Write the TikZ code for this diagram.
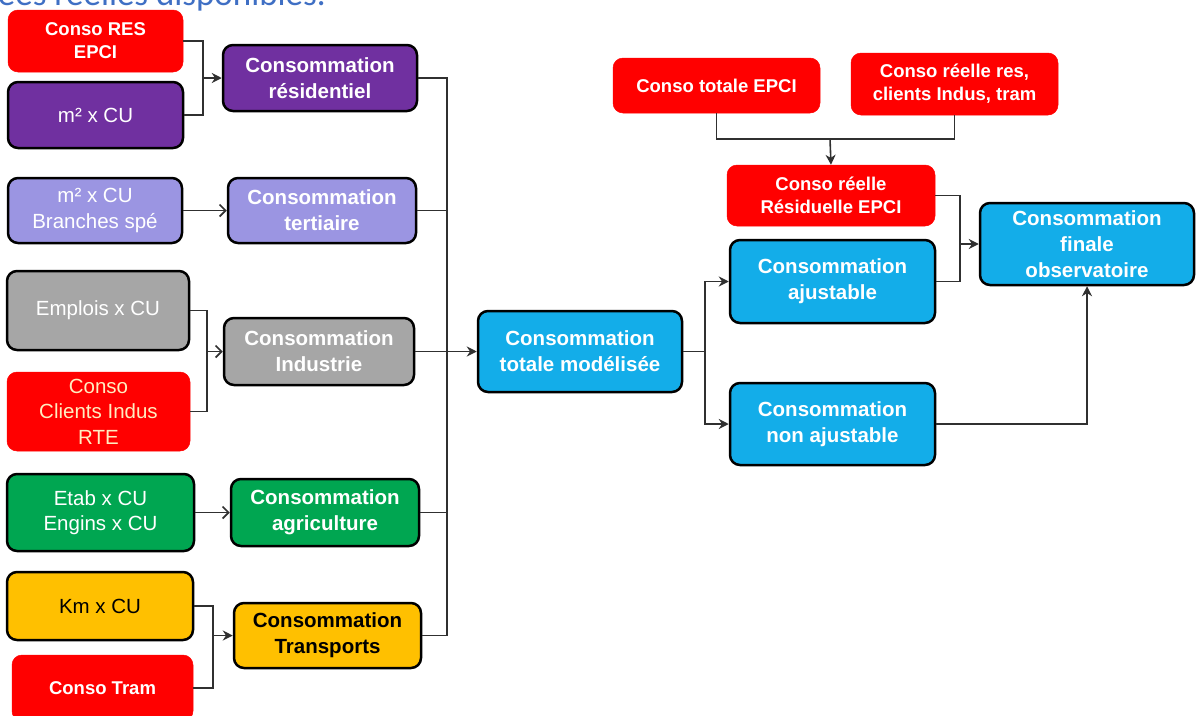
\documentclass[tikz,border=0pt]{standalone}
\usepackage{fontspec}
\setmainfont{Liberation Sans}
\newfontfamily\headfont{Carlito}
\usetikzlibrary{arrows.meta}
\definecolor{cred}{HTML}{FF0000}
\definecolor{cpurple}{HTML}{7030A0}
\definecolor{clilac}{HTML}{9B95E2}
\definecolor{cgray}{HTML}{A6A6A6}
\definecolor{cgreen}{HTML}{00A651}
\definecolor{cyellow}{HTML}{FFC000}
\definecolor{cblue}{HTML}{13ADE9}
\definecolor{ccream}{HTML}{FFEDC0}
\definecolor{chead}{HTML}{3F6FC4}
\definecolor{cline}{HTML}{303030}
\tikzset{
  box/.style={rectangle, rounded corners=10pt, inner sep=0pt, align=center,
    text=white, draw=black, line width=2.5pt},
  redbox/.style={box, fill=cred, draw=cred, line width=0.5pt},
  bold/.style={font=\fontsize{20.5}{26}\selectfont\bfseries},
  plain/.style={font=\fontsize{20.5}{25.5}\selectfont},
  redtxt/.style={font=\fontsize{18.5}{23}\selectfont\bfseries},
  wire/.style={draw=cline, line width=1.6pt},
  fullhead/.style={wire, -{Stealth[length=10pt,width=10pt]}},
  openhead/.style={wire, -{Straight Barb[length=6pt,width=12pt,line width=1.6pt]}},
}
\begin{document}
\begin{tikzpicture}[x=1pt, y=1pt]
\useasboundingbox (0,0) rectangle (1196,-715);
\clip (0,0) rectangle (1196,-715);
\fill[white] (0,0) rectangle (1196,-715);

% heading line, partly outside the frame
\node[anchor=base east, text=chead, inner sep=0pt, font=\headfont\fontsize{35}{38}\selectfont]
  (head) at (326,-5) {données réelles disponibles.};

% inputs, left column
\node[redbox, redtxt, minimum width=175pt, minimum height=62pt] (resepci) at (95.5,-41) {Conso RES\\EPCI};
\node[box, plain, fill=cpurple, minimum width=175pt, minimum height=66pt] (m2cu) at (95.5,-115) {m² x CU};
\node[box, plain, fill=clilac, minimum width=174pt, minimum height=65pt] (branches) at (95,-210.5) {m² x CU\\Branches spé};
\node[box, plain, fill=cgray, minimum width=182pt, minimum height=79pt] (emplois) at (98,-310.5) {Emplois x CU};
\node[redbox, plain, text=ccream, minimum width=183pt, minimum height=79pt] (clients) at (98.5,-411.5) {Conso\\Clients Indus\\RTE};
\node[box, plain, fill=cgreen, minimum width=187pt, minimum height=77pt] (etab) at (100.5,-512.5) {Etab x CU\\Engins x CU};
\node[box, plain, fill=cyellow, text=black, minimum width=186pt, minimum height=68pt] (km) at (100,-606) {Km x CU};
\node[redbox, redtxt, minimum width=181pt, minimum height=66pt] (tram) at (102.5,-688) {Conso Tram};

% sector totals
\node[box, bold, fill=cpurple, minimum width=194pt, minimum height=66pt] (res) at (320,-78) {Consommation\\résidentiel};
\node[box, bold, fill=clilac, minimum width=188pt, minimum height=65pt] (ter) at (322,-210.5) {Consommation\\tertiaire};
\node[box, bold, fill=cgray, minimum width=190pt, minimum height=67pt] (ind) at (319,-351.5) {Consommation\\Industrie};
\node[box, bold, fill=cgreen, minimum width=188pt, minimum height=67pt] (agr) at (325,-512.5) {Consommation\\agriculture};
\node[box, bold, fill=cyellow, text=black, minimum width=187pt, minimum height=65pt] (tra) at (327.5,-635.5) {Consommation\\Transports};

% modelled and observed totals
\node[box, bold, fill=cblue, minimum width=204pt, minimum height=81pt] (tot) at (580,-351.5) {Consommation\\totale modélisée};
\node[box, bold, fill=cblue, minimum width=205pt, minimum height=83pt] (aj) at (832.5,-281.5) {Consommation\\ajustable};
\node[box, bold, fill=cblue, minimum width=205pt, minimum height=82pt] (naj) at (832.5,-424) {Consommation\\non ajustable};
\node[redbox, redtxt, minimum width=207pt, minimum height=55pt] (epci) at (716.5,-85.5) {Conso totale EPCI};
\node[redbox, redtxt, minimum width=207pt, minimum height=62pt] (reel) at (954.5,-84) {Conso réelle res,\\clients Indus, tram};
\node[redbox, redtxt, minimum width=208pt, minimum height=61pt] (resid) at (831,-195.5) {Conso réelle\\Résiduelle EPCI};
\node[box, bold, fill=cblue, minimum width=214pt, minimum height=82pt] (fin) at (1087,-244) {Consommation\\finale\\observatoire};

% junction points
\coordinate (jres) at (203,-78);
\coordinate (jind) at (207,-351.5);
\coordinate (jtra) at (213,-635.5);
\coordinate (bt) at (447,-78);
\coordinate (bb) at (447,-635.5);
\coordinate (jsplit) at (705,-351.5);
\coordinate (jtop) at (830,-139);
\coordinate (jfin) at (960,-244);

% left groups
\draw[wire] (resepci.east) -| (jres) |- (m2cu.east);
\draw[fullhead] (jres) -- (res.west);
\draw[openhead] (branches.east) -- (ter.west);
\draw[wire] (emplois.east) -| (jind) |- (clients.east);
\draw[openhead] (jind) -- (ind.west);
\draw[openhead] (etab.east) -- (agr.west);
\draw[wire] (km.east) -| (jtra) |- (tram.east);
\draw[fullhead] (jtra) -- (tra.west);

% collecting bus
\draw[wire] (res.east) -- (bt) -- (bb) -- (tra.east);
\draw[wire] (ter.east) -- (ter.east -| bt);
\draw[wire] (ind.east) -- (ind.east -| bt);
\draw[wire] (agr.east) -- (agr.east -| bt);
\draw[fullhead] (ind.east -| bt) -- (tot.west);

% split of the modelled total
\draw[wire] (tot.east) -- (jsplit);
\draw[fullhead] (jsplit) |- (aj.west);
\draw[fullhead] (jsplit) |- (naj.west);

% observed data
\draw[wire] (epci.south) |- (jtop) -| (reel.south);
\draw[fullhead] (jtop) -- (resid.north);
\draw[wire] (resid.east) -| (jfin) |- (aj.east);
\draw[fullhead] (jfin) -- (fin.west);
\draw[fullhead] (naj.east) -| (fin.south);
\end{tikzpicture}
\end{document}
